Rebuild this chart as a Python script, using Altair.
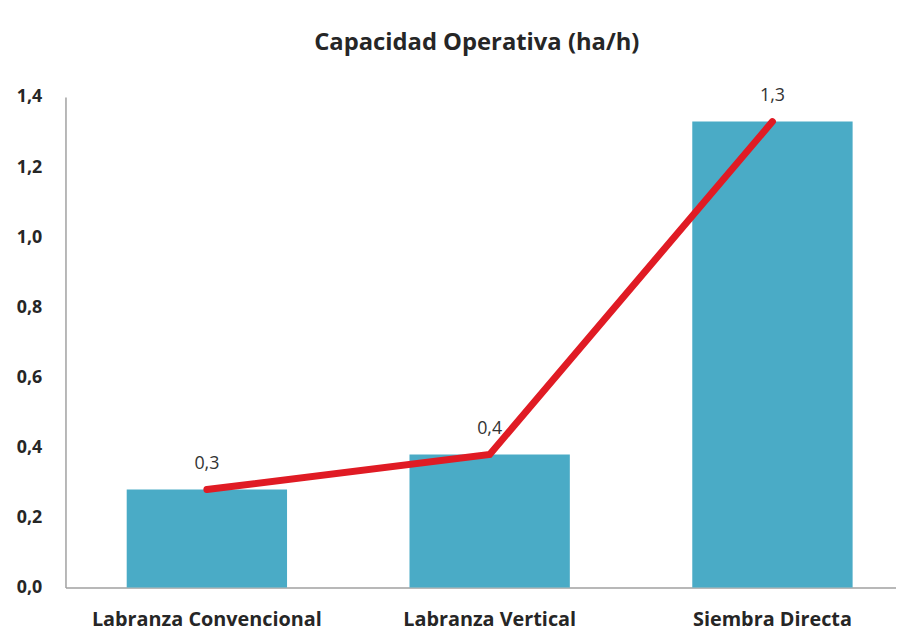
import altair as alt
import pandas as pd

categories = ["Labranza Convencional", "Labranza Vertical", "Siembra Directa"]
values = [0.28, 0.38, 1.33]
labels = ["0,3", "0,4", "1,3"]

df = pd.DataFrame({"cat": categories, "val": values, "lab": labels})

FONT = "Open Sans"

x = alt.X("cat:N", sort=categories, title=None,
          scale=alt.Scale(paddingInner=0.433, paddingOuter=0.2165, range=[0, 856]),
          axis=alt.Axis(labelAngle=0, labelFont=FONT, labelFontSize=20, labelFontWeight="bold",
                        labelColor="#262626", ticks=False, labelPadding=22, labelLimit=0,
                        domainColor="#a0a0a0", domainWidth=1.5))
y = alt.Y("val:Q", title=None,
          scale=alt.Scale(domain=[0, 1.4], nice=False),
          axis=alt.Axis(values=[0, 0.2, 0.4, 0.6, 0.8, 1.0, 1.2, 1.4], grid=False, ticks=False,
                        labelExpr="replace(format(datum.value, '.1f'), '.', ',')",
                        labelFont=FONT, labelFontSize=18, labelFontWeight="bold",
                        labelColor="#262626", labelPadding=24,
                        domainColor="#a0a0a0", domainWidth=1.5))

base = alt.Chart(df)

bars = base.mark_bar(color="#4AABC6").encode(x=x, y=y)
line = base.mark_line(color="#E01B24", strokeWidth=7, strokeCap="round").encode(x=x, y=y)
text = base.mark_text(dy=-26, font=FONT, fontSize=18, color="#333333").encode(x=x, y=y, text="lab:N")

chart = alt.layer(bars, line, text).properties(
    width=830, height=495,
    autosize=alt.AutoSizeParams(type="none"),
    padding={"left": 58, "top": 87, "right": 8, "bottom": 48},
    title=alt.TitleParams("Capacidad Operativa (ha/h)", font=FONT, fontSize=24,
                          fontWeight="bold", color="#262626", offset=32, anchor="middle"),
).configure_view(stroke=None)

chart.save("out.html", embed_options={"renderer": "svg", "actions": False})
